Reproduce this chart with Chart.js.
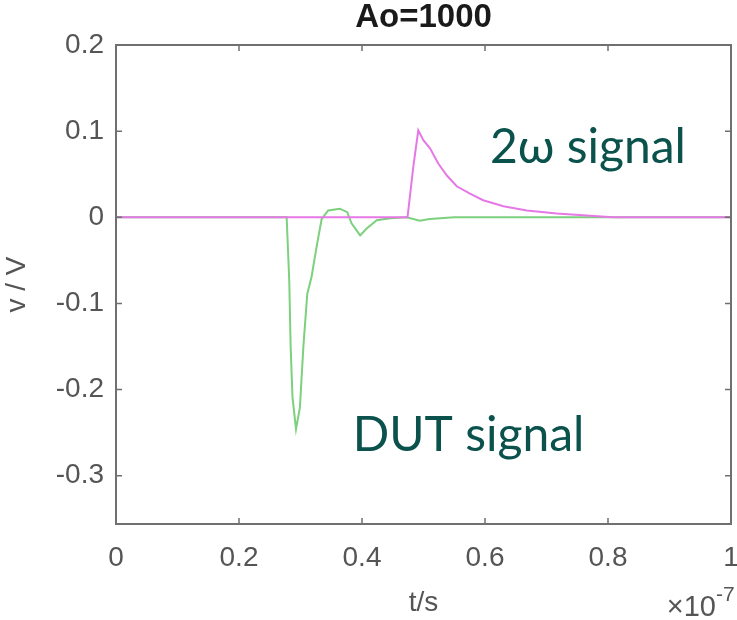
<!DOCTYPE html>
<html>
<head>
<meta charset="utf-8">
<script src="https://cdn.jsdelivr.net/npm/chart.js@4.4.1/dist/chart.umd.min.js"></script>
<style>
    html, body { margin: 0; padding: 0; background: #fff; }
</style>
</head>
<body>
<canvas id="chart-signal" width="737" height="620"></canvas>
<script>
// tick labels
const xTicks = [0, 0.2, 0.4, 0.6, 0.8, 1];
const yTicks = [-0.3, -0.2, -0.1, 0, 0.1, 0.2];

// DUT signal (green), t in units of 1e-7 s
const tDut = [0, 0.2775, 0.2817, 0.284, 0.287, 0.2927, 0.299, 0.3046, 0.311, 0.318, 0.326, 0.3344,
    0.345, 0.364, 0.376, 0.383, 0.397, 0.4076, 0.424, 0.446, 0.4727, 0.494, 0.51, 0.55, 1];
const vDut = [0, 0, -0.073, -0.151, -0.209, -0.246, -0.221, -0.151, -0.089, -0.069, -0.035, -0.002,
    0.008, 0.010, 0.006, -0.007, -0.021, -0.013, -0.0035, -0.001, 0, -0.004, -0.002, 0, 0];

// 2w signal (magenta)
const t2w = [0, 0.474, 0.4834, 0.4915, 0.4997, 0.5106, 0.524, 0.5377, 0.554, 0.5756, 0.597,
    0.630, 0.668, 0.7166, 0.765, 0.808, 1];
const v2w = [0, 0, 0.0585, 0.101, 0.0895, 0.080, 0.0624, 0.0488, 0.036, 0.0276, 0.0198,
    0.0128, 0.008, 0.0043, 0.002, 0, 0];

const axisFont = { family: "'Liberation Sans', Arial, sans-serif", size: 28 };
const axisColor = '#555';

// MATLAB-like box with inward ticks, plus text annotations
const boxPlugin = {
    id: 'box',
    afterDatasetsDraw(chart) {
        const { ctx, chartArea: a, scales: { x, y } } = chart;
        ctx.save();
        ctx.strokeStyle = '#707070';
        ctx.lineWidth = 2;
        ctx.strokeRect(a.left, a.top, a.right - a.left, a.bottom - a.top);
        ctx.lineWidth = 1.5;
        ctx.beginPath();
        xTicks.forEach(v => {
            const px = x.getPixelForValue(v);
            ctx.moveTo(px, a.bottom); ctx.lineTo(px, a.bottom - 6);
            ctx.moveTo(px, a.top); ctx.lineTo(px, a.top + 6);
        });
        yTicks.forEach(v => {
            const py = y.getPixelForValue(v);
            ctx.moveTo(a.left, py); ctx.lineTo(a.left + 6, py);
            ctx.moveTo(a.right, py); ctx.lineTo(a.right - 6, py);
        });
        ctx.stroke();

        // annotations
        ctx.fillStyle = '#0b524d';
        ctx.font = "48px Lato, 'Open Sans', 'Noto Sans', sans-serif";
        ctx.textBaseline = 'alphabetic';
        ctx.textAlign = 'left';
        ctx.fillText('2ω signal', x.getPixelForValue(0.608), y.getPixelForValue(0.0628));
        ctx.fillText('DUT signal', x.getPixelForValue(0.385), y.getPixelForValue(-0.271));

        // x exponent
        ctx.fillStyle = axisColor;
        ctx.font = "29px 'Liberation Sans', Arial, sans-serif";
        ctx.textAlign = 'right';
        ctx.fillText('×10', a.right - 15, 616);
        ctx.font = "21px 'Liberation Sans', Arial, sans-serif";
        ctx.textAlign = 'left';
        ctx.fillText('-7', a.right - 15, 601);
        ctx.restore();
    }
};

new Chart(document.getElementById('chart-signal'), {
    type: 'line',
    data: {
        datasets: [
            {
                label: '2w signal',
                data: t2w.map((t, i) => ({ x: t, y: v2w[i] })),
                borderColor: 'rgb(230, 120, 230)',
                borderWidth: 2,
                pointRadius: 0,
                tension: 0
            },
            {
                label: 'DUT signal',
                data: tDut.map((t, i) => ({ x: t, y: vDut[i] })),
                borderColor: 'rgb(125, 208, 125)',
                borderWidth: 2,
                pointRadius: 0,
                tension: 0
            }
        ]
    },
    options: {
        responsive: false,
        animation: false,
        devicePixelRatio: 1,
        layout: { padding: { left: 0, right: 0, top: 0, bottom: 0 } },
        plugins: {
            legend: { display: false },
            tooltip: { enabled: false },
            title: {
                display: true,
                fullSize: false,
                text: 'Ao=1000',
                color: '#1a1a1a',
                font: { family: "'Liberation Sans', Arial, sans-serif", size: 33, weight: 'bold', lineHeight: 1.0 },
                padding: { top: 1, bottom: 11 }
            }
        },
        scales: {
            x: {
                type: 'linear',
                min: 0,
                max: 1,
                afterBuildTicks: s => { s.ticks = xTicks.map(v => ({ value: v })); },
                afterFit: s => { s.height = 96; s.paddingRight = 6; s.paddingLeft = 0; },
                ticks: {
                    callback: v => String(v),
                    font: axisFont,
                    color: axisColor,
                    padding: 17,
                    maxRotation: 0,
                    autoSkip: false
                },
                grid: { display: false, drawTicks: false },
                border: { display: false },
                title: {
                    display: true,
                    text: 't/s',
                    font: axisFont,
                    color: axisColor,
                    padding: { top: 0, bottom: 0 }
                }
            },
            y: {
                min: -0.356,
                max: 0.2,
                afterBuildTicks: s => { s.ticks = yTicks.map(v => ({ value: v })); },
                afterFit: s => { s.width = 116; },
                ticks: {
                    callback: v => String(v),
                    font: axisFont,
                    color: axisColor,
                    padding: 12,
                    autoSkip: false
                },
                grid: { display: false, drawTicks: false },
                border: { display: false },
                title: {
                    display: true,
                    text: 'v / V',
                    font: axisFont,
                    color: axisColor,
                    padding: { top: 0, bottom: 0 }
                }
            }
        }
    },
    plugins: [boxPlugin]
});
</script>
</body>
</html>
